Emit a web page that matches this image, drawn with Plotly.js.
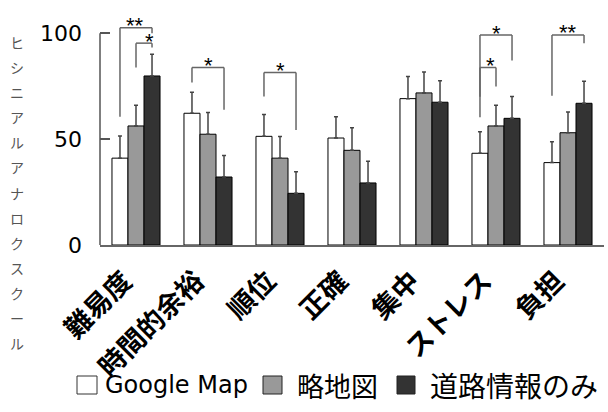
<!DOCTYPE html>
<html><head><meta charset="utf-8">
<script src="https://cdn.plot.ly/plotly-3.0.1.min.js"></script>
<style>html,body{margin:0;padding:0;background:#fff}#c{width:608px;height:412px}</style>
</head><body><div id="c"></div>
<script>
// ---- data ----
var categories = ['難易度', '時間的余裕', '順位', '正確', '集中', 'ストレス', '負担'];
var seriesNames = ['Google Map', '略地図', '道路情報のみ'];
var googleMap = [41.0, 62.2, 51.3, 50.5, 69.1, 43.3, 38.9];
var ryakuChizu = [56.2, 52.3, 41.0, 44.7, 71.8, 56.2, 53.0];
var doroOnly = [79.8, 32.1, 24.4, 29.3, 67.4, 59.8, 66.9];
var googleMapErr = [10.5, 9.9, 10.3, 10.1, 10.4, 10.2, 9.9];
var ryakuChizuErr = [9.8, 10.2, 10.2, 10.6, 9.9, 9.8, 9.8];
var doroOnlyErr = [10.3, 10.1, 10.2, 10.2, 10.2, 10.3, 10.4];
var yTickVals = [0, 50, 100];
var yTickText = ['0', '50', '100'];
var yTitle = 'ヒシニアルアナロクスクール';
// significance brackets: category index, left bar, right bar (0=GM,1=略地図,2=道路), top, left-leg bottom, right-leg bottom, label
var sigGroup = [0, 0, 1, 2, 5, 5, 6];
var sigFrom = [0, 1, 0, 0, 0, 0, 0];
var sigTo = [2, 2, 2, 2, 2, 1, 2];
var sigTop = [102.6, 95.3, 83.8, 81.4, 99.1, 83.8, 99.2];
var sigLeftBottom = [60.6, 83.8, 76.7, 70.1, 60.3, 70.0, 70.5];
var sigRightBottom = [100.0, 93.2, 63.8, 54.3, 87.1, 74.8, 95.3];
var sigLabel = ['**', '*', '*', '*', '*', '*', '**'];
var sigLabelOffset = [-0.02, 0.08, 0, 0, 0, 0.04, 0];

// ---- styles ----
var fills = ['#ffffff', '#999999', '#333333'];
var values = [googleMap, ryakuChizu, doroOnly];
var errs = [googleMapErr, ryakuChizuErr, doroOnlyErr];
var BARGAP = 0.3325;
var barW = (1 - BARGAP) / 3;

var traces = values.map(function (v, i) {
  return {
    type: 'bar', x: categories, y: v, name: seriesNames[i],
    marker: {color: fills[i], line: {color: '#000', width: 1}},
    error_y: {type: 'data', array: errs[i], symmetric: false, arrayminus: errs[i].map(function(){return 0;}),
              color: '#444', thickness: 1.5, width: 2},
    showlegend: false, hoverinfo: 'skip'
  };
});

var M = {l: 100, r: 4, t: 12, b: 167};
var W = 608, H = 412;
var pw = W - M.l - M.r;
function px2paperX(px) { return (px - M.l) / pw; }
function px2paperY(py) { return (H - M.b - py) / (H - M.t - M.b); }

var shapes = [];
var annotations = [];
// y axis line 0..100
shapes.push({type: 'line', xref: 'paper', yref: 'y', x0: 0, x1: 0, y0: 0, y1: 100, line: {color: '#555', width: 1.5}});

for (var k = 0; k < sigGroup.length; k++) {
  var xl = sigGroup[k] + (sigFrom[k] - 1) * barW;
  var xr = sigGroup[k] + (sigTo[k] - 1) * barW;
  var ln = {color: '#666', width: 1.5};
  shapes.push({type: 'line', xref: 'x', yref: 'y', x0: xl, x1: xl, y0: sigLeftBottom[k], y1: sigTop[k], line: ln});
  shapes.push({type: 'line', xref: 'x', yref: 'y', x0: xl, x1: xr, y0: sigTop[k], y1: sigTop[k], line: ln});
  shapes.push({type: 'line', xref: 'x', yref: 'y', x0: xr, x1: xr, y0: sigTop[k], y1: sigRightBottom[k], line: ln});
  annotations.push({xref: 'x', yref: 'y', x: (xl + xr) / 2 + sigLabelOffset[k], y: sigTop[k], text: sigLabel[k], showarrow: false,
    xanchor: 'center', yanchor: 'middle', yshift: 2,
    font: {family: 'Liberation Sans, Arial', size: 22, color: '#000'}});
}

// y-axis title, stacked vertically
var chars = Array.from(yTitle);
chars.forEach(function (ch, i) {
  annotations.push({xref: 'paper', yref: 'paper', x: px2paperX(16.5), y: px2paperY(41.7 + i * 25.15),
    text: ch, showarrow: false, xanchor: 'center', yanchor: 'middle',
    font: {family: 'Noto Sans CJK JP', size: 14, color: '#555'}});
});

// legend (manual)
var legSq = [[77, 97], [263, 282], [397, 415]];
var legTextX = [103, 295, 428];
var legFont = [{family: 'DejaVu Sans', size: 24, color: '#000'},
               {family: 'Noto Sans CJK JP', size: 27, color: '#000'},
               {family: 'Noto Sans CJK JP', size: 28, color: '#000'}];
var legY = 385;
for (var s = 0; s < 3; s++) {
  shapes.push({type: 'rect', xref: 'paper', yref: 'paper',
    x0: px2paperX(legSq[s][0]), x1: px2paperX(legSq[s][1]),
    y0: px2paperY(legY + 9), y1: px2paperY(legY - 9),
    fillcolor: fills[s], line: {color: s === 0 ? '#333' : '#222', width: 1}});
  annotations.push({xref: 'paper', yref: 'paper', x: px2paperX(legTextX[s]), y: px2paperY(legY),
    text: seriesNames[s], showarrow: false, xanchor: 'left', yanchor: 'middle', font: legFont[s]});
}

var layout = {
  width: W, height: H, margin: M,
  paper_bgcolor: '#fff', plot_bgcolor: '#fff',
  barmode: 'group', bargap: BARGAP, bargroupgap: 0,
  showlegend: false,
  xaxis: {type: 'category', range: [-0.5, 6.5], showline: true, linecolor: '#666', linewidth: 1.5,
          ticks: '', showgrid: false, zeroline: false, tickangle: -45,
          tickfont: {family: 'Noto Sans CJK JP', size: 27, color: '#000', weight: 'bold'},
          ticklabelstandoff: 8, ticklabelshift: -12},
  yaxis: {range: [0, 110], tickvals: yTickVals, ticktext: yTickText, ticks: 'inside', ticklen: 10,
          tickcolor: '#555', tickwidth: 1.5, showline: false, showgrid: false, zeroline: false,
          tickfont: {family: 'DejaVu Sans', size: 22, color: '#000'}, ticklabelstandoff: 17},
  shapes: shapes, annotations: annotations
};
Plotly.newPlot('c', traces, layout, {displayModeBar: false, staticPlot: true});
</script></body></html>
